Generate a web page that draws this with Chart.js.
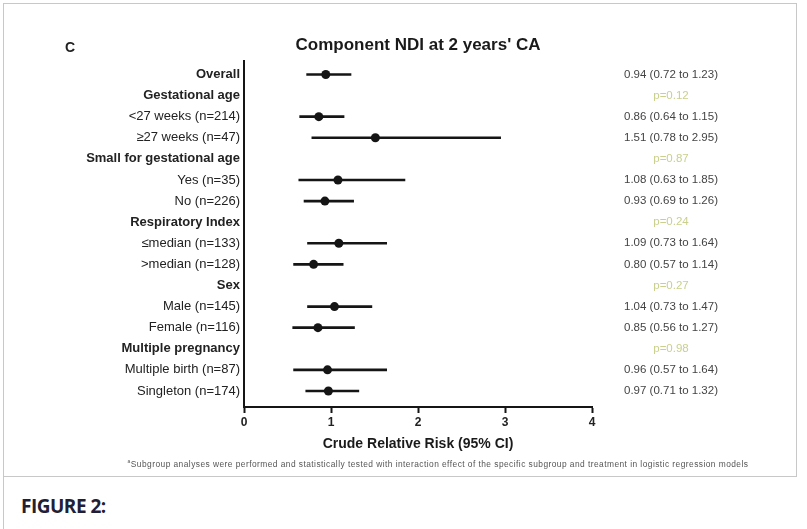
<!DOCTYPE html>
<html>
<head>
<meta charset="utf-8">
<script src="https://cdn.jsdelivr.net/npm/chart.js@4/dist/chart.umd.min.js"></script>
<style>
  body { margin:0; background:#fff; font-family:"Liberation Sans", Arial, sans-serif; }
  #wrap { position:absolute; left:0; top:0; width:807px; height:529px; overflow:hidden; }
  #box { position:absolute; left:3px; top:3px; width:792px; height:472px; border:1px solid #c8c8c8; }
  #leftline { position:absolute; left:3px; top:476px; width:1px; height:60px; background:#c8c8c8; }
  #cv { position:absolute; left:0; top:0; }
  #panel { position:absolute; left:65px; top:39px; font-weight:bold; font-size:14px; color:#222; }
  #note { position:absolute; left:110px; width:656px; top:458px; text-align:center; font-size:8.4px; letter-spacing:0.45px; color:#555; white-space:nowrap; }
  #fig { position:absolute; left:21px; top:493px; font-family:"Open Sans", sans-serif; font-weight:bold; font-size:19px; color:#1f2035; letter-spacing:-0.5px; }
</style>
</head>
<body>
<div id="wrap">
  <div id="box"></div>
  <div id="leftline"></div>
  <canvas id="cv" width="807" height="476"></canvas>
  <div id="panel">C</div>
  <div id="note"><sup style="font-size:5px">a</sup>Subgroup analyses were performed and statistically tested with interaction effect of the specific subgroup and treatment in logistic regression models</div>
  <div id="fig">FIGURE 2:</div>
</div>
<script>
  // rows of the forest plot, top to bottom
  var rowLabels = ['Overall', 'Gestational age', '<27 weeks (n=214)', '\u226527 weeks (n=47)',
    'Small for gestational age', 'Yes (n=35)', 'No (n=226)', 'Respiratory Index',
    '\u2264median (n=133)', '>median (n=128)', 'Sex', 'Male (n=145)', 'Female (n=116)',
    'Multiple pregnancy', 'Multiple birth (n=87)', 'Singleton (n=174)'];
  var headRows = [0, 1, 4, 7, 10, 13];
  var estimate = [0.94, null, 0.86, 1.51, null, 1.08, 0.93, null, 1.09, 0.80, null, 1.04, 0.85, null, 0.96, 0.97];
  var lowerCI  = [0.72, null, 0.64, 0.78, null, 0.63, 0.69, null, 0.73, 0.57, null, 0.73, 0.56, null, 0.57, 0.71];
  var upperCI  = [1.23, null, 1.15, 2.95, null, 1.85, 1.26, null, 1.64, 1.14, null, 1.47, 1.27, null, 1.64, 1.32];
  var pValue   = ['', 'p=0.12', '', '', 'p=0.87', '', '', 'p=0.24', '', '', 'p=0.27', '', '', 'p=0.98', '', ''];
  var xTicks = [0, 1, 2, 3, 4];

  var fam = '"Liberation Sans", Arial, sans-serif';
  var ink = '#151515';

  // text for the right column
  var rightText = [];
  for (var i = 0; i < rowLabels.length; i++) {
    if (estimate[i] != null) {
      rightText.push(estimate[i].toFixed(2) + ' (' + lowerCI[i].toFixed(2) + ' to ' + upperCI[i].toFixed(2) + ')');
    } else {
      rightText.push(pValue[i]);
    }
  }

  var ciBars = [];
  var points = [];
  for (var j = 0; j < rowLabels.length; j++) {
    if (estimate[j] == null) continue;
    ciBars.push({ x: [lowerCI[j], upperCI[j]], y: j });
    points.push({ x: estimate[j], y: j });
  }

  // rows sit on integer positions, a bit of room above the first and below the last
  function rowAxis(position, width, labels) {
    return {
      type: 'linear',
      position: position,
      reverse: true,
      offset: false,
      min: -0.62,
      max: 15.76,
      afterBuildTicks: function (axis) {
        axis.ticks = rowLabels.map(function (l, k) { return { value: k }; });
      },
      afterFit: function (axis) { axis.width = width; },
      grid: { display: false, drawTicks: false, offset: false },
      ticks: {
        autoSkip: false,
        callback: function (v) { return labels[v]; }
      }
    };
  }

  var yLeft = rowAxis('left', 244, rowLabels);
  yLeft.border = { display: true, width: 2, color: ink };
  yLeft.ticks.padding = 4;
  yLeft.ticks.color = '#222';
  yLeft.ticks.font = function (ctx) {
    return { family: fam, size: 13, weight: headRows.indexOf(ctx.index) >= 0 ? 'bold' : 'normal' };
  };

  var yRight = rowAxis('right', 215, rightText);
  yRight.border = { display: false };
  yRight.ticks.padding = 32;
  yRight.ticks.crossAlign = 'center';
  yRight.ticks.color = function (ctx) {
    return estimate[ctx.index] == null ? '#c9d08c' : '#444';
  };
  yRight.ticks.font = { family: fam, size: 11.5 };

  new Chart(document.getElementById('cv'), {
    type: 'bar',
    data: {
      datasets: [
        {
          type: 'bar',
          data: ciBars,
          backgroundColor: ink,
          borderWidth: 0,
          barThickness: 2,
          order: 2
        },
        {
          type: 'line',
          data: points,
          showLine: false,
          pointRadius: 4.5,
          pointBackgroundColor: ink,
          pointBorderColor: ink,
          pointBorderWidth: 0,
          order: 1
        }
      ]
    },
    options: {
      indexAxis: 'y',
      responsive: false,
      animation: false,
      layout: { padding: 0 },
      plugins: {
        legend: { display: false },
        tooltip: { enabled: false },
        title: {
          display: true,
          fullSize: false,
          text: "Component NDI at 2 years' CA",
          color: '#1a1a1a',
          font: { family: fam, size: 17, weight: 'bold' },
          padding: { top: 35, bottom: 6 }
        }
      },
      scales: {
        x: {
          type: 'linear',
          min: 0,
          max: 4,
          afterBuildTicks: function (axis) {
            axis.ticks = xTicks.map(function (v) { return { value: v }; });
          },
          afterFit: function (axis) { axis.height = 69; },
          grid: { display: true, drawOnChartArea: false, drawTicks: true, tickLength: 6, tickWidth: 2, tickColor: ink },
          border: { display: true, width: 2, color: ink },
          ticks: { color: '#222', padding: 2, font: { family: fam, size: 12, weight: 'bold' } },
          title: {
            display: true,
            text: 'Crude Relative Risk (95% CI)',
            color: '#1a1a1a',
            font: { family: fam, size: 14, weight: 'bold' },
            padding: { top: 0, bottom: 23 }
          }
        },
        y: yLeft,
        y2: yRight
      }
    }
  });
</script>
</body>
</html>
